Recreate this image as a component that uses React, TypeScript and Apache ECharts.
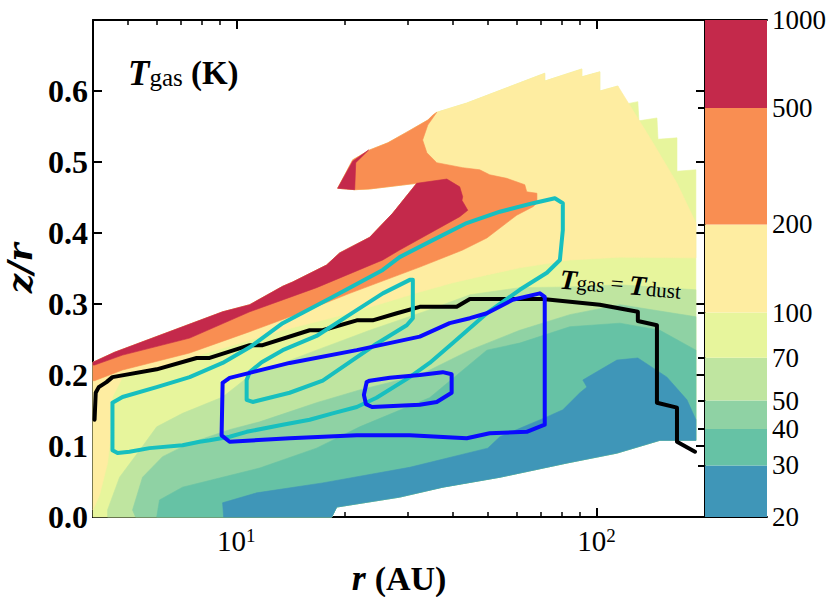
import React, { useEffect, useRef } from "react";
import * as echarts from "echarts";

// ---------- axes ----------
const rRange = [4, 200];
const zRange = [0, 0.7];
const zTicks = [0, 0.1, 0.2, 0.3, 0.4, 0.5, 0.6];
const rMajorTicks = [10, 100];
const rMinorTicks = [5, 6, 7, 8, 9, 20, 30, 40, 50, 60, 70, 80, 90];

// ---------- colour levels (K) ----------
const tLevels = [20, 30, 40, 50, 70, 100, 200, 500, 1000];
const tColors = ["#3f96b8", "#66c2a5", "#8fd2a4", "#bfe5a0", "#e7f59c", "#feeda1", "#f98e52", "#c4294b"];
const cbTicks = [30, 40, 50, 70, 100, 200, 500];

// ---------- data domain edges [r (AU), z/r] ----------
const domainTop = [[4.0, 0.218], [4.59, 0.232], [9.16, 0.289], [10.89, 0.299], [13.45, 0.325], [14.33, 0.331], [17.81, 0.355], [19.36, 0.372], [23.46, 0.394], [27.19, 0.428], [31.68, 0.47]];
const wingEdge = [[23.46, 0.462], [21.31, 0.461], [19.11, 0.463], [21.04, 0.503], [23.46, 0.517], [26.33, 0.527], [29.72, 0.542], [34.0, 0.559], [35.1, 0.566], [36.0, 0.57]];
const topStairs = [[43.6, 0.583], [71.8, 0.625], [71.8, 0.614], [91.0, 0.631], [91.0, 0.62], [102.1, 0.627], [102.1, 0.6], [114.6, 0.607]];
const topStairsOuter = [[116.1, 0.58], [130.2, 0.585], [131.1, 0.558], [147.1, 0.562], [148.1, 0.532], [167.2, 0.534], [167.2, 0.487], [188.7, 0.489]];
const domainBottom = [[188.7, 0.108], [149.9, 0.108], [113.9, 0.09], [82.7, 0.076], [53.9, 0.056], [37.4, 0.042], [28.4, 0.028], [19.0, 0.014], [18.4, 0]];

// ---------- warm contour boundaries ----------
const yellowFringe = [[143.4, 0.527], [167.2, 0.47], [188.7, 0.414], [188.7, 0.365]];
const yellowLower = [[116.1, 0.366], [84.3, 0.362], [61.2, 0.351], [49.6, 0.341], [39.9, 0.33], [32.3, 0.317], [20.64, 0.287], [13.45, 0.263], [10.89, 0.249], [7.42, 0.224], [4.83, 0.197], [4.53, 0.169], [4.5, 0.123], [4.39, 0.076], [4.17, 0.031], [4.0, 0.01]];
const orangeLower = [[34.0, 0.552], [32.9, 0.531], [33.8, 0.513], [36.0, 0.499], [42.5, 0.492], [47.4, 0.489], [50.5, 0.482], [56.3, 0.477], [63.2, 0.468], [64.0, 0.458], [68.3, 0.456], [68.3, 0.442], [66.6, 0.437], [60.0, 0.425], [49.6, 0.393], [42.5, 0.376], [32.3, 0.352], [20.64, 0.315], [14.99, 0.287], [10.89, 0.261], [7.42, 0.231], [4.83, 0.207], [4.04, 0.192], [4.0, 0.192]];
const crimsonLower = [[38.4, 0.476], [41.7, 0.465], [42.5, 0.451], [42.3, 0.446], [43.9, 0.432], [41.7, 0.423], [28.4, 0.376], [25.5, 0.362], [16.7, 0.323], [10.89, 0.289], [7.42, 0.252], [4.83, 0.228], [4.04, 0.214], [4.0, 0.214]];
const crimsonWing = [[19.11, 0.463], [21.04, 0.501], [23.3, 0.517], [21.45, 0.499], [21.31, 0.461]];

// ---------- cold contour boundaries (upper edges, left -> right) ----------
const upper70 = [[4.39, 0], [4.39, 0.01], [4.74, 0.056], [5.39, 0.094], [6.01, 0.127], [7.09, 0.146], [9.16, 0.169], [10.89, 0.199], [16.7, 0.235], [23.46, 0.263], [34.4, 0.292], [44.5, 0.313], [61.2, 0.323], [84.3, 0.324], [116.1, 0.327], [188.7, 0.32]];
const upper50 = [[5.25, 0], [5.15, 0.01], [5.49, 0.056], [6.24, 0.085], [7.42, 0.104], [9.58, 0.123], [11.61, 0.134], [16.7, 0.161], [22.0, 0.179], [32.3, 0.2], [44.5, 0.235], [61.2, 0.263], [84.3, 0.285], [116.1, 0.299], [188.7, 0.282]];
const upper40 = [[6.01, 0], [6.12, 0.024], [7.09, 0.042], [9.16, 0.056], [11.61, 0.069], [16.7, 0.097], [22.0, 0.127], [34.4, 0.168], [49.6, 0.235], [61.2, 0.245], [84.3, 0.268], [116.1, 0.273], [149.9, 0.263], [188.7, 0.235]];
const upper30 = [[9.22, 0], [9.16, 0.02], [11.39, 0.034], [17.37, 0.048], [30.3, 0.07], [49.9, 0.097], [53.9, 0.113], [72.8, 0.141], [80.6, 0.151], [89.9, 0.175], [94.0, 0.183], [91.6, 0.193], [102.1, 0.207], [113.9, 0.221], [130.2, 0.224], [156.8, 0.197], [178.2, 0.165], [188.7, 0.137]];

// ---------- contour lines ----------
const tEqualLine = [[4.04, 0.137], [4.07, 0.175], [4.15, 0.183], [4.36, 0.19], [4.53, 0.197], [6.01, 0.208], [7.76, 0.224], [8.43, 0.224], [10.89, 0.242], [11.83, 0.242], [15.98, 0.263], [17.37, 0.263], [21.6, 0.277], [23.9, 0.277], [27.9, 0.287], [32.3, 0.296], [40.9, 0.296], [44.5, 0.307], [70.9, 0.307], [102.1, 0.299], [130.2, 0.289], [130.2, 0.276], [147.1, 0.27], [147.1, 0.161], [167.2, 0.154], [167.2, 0.106], [187.6, 0.092]];
const cyanOuter = [[4.53, 0.161], [4.53, 0.094], [4.68, 0.09], [5.05, 0.092], [5.74, 0.097], [7.09, 0.101], [7.91, 0.106], [8.43, 0.108], [9.58, 0.113], [10.68, 0.12], [13.45, 0.13], [15.98, 0.137], [18.5, 0.146], [21.6, 0.155], [24.5, 0.168], [30.3, 0.197], [34.4, 0.217], [39.9, 0.245], [49.6, 0.287], [61.2, 0.32], [72.8, 0.344], [79.1, 0.362], [80.6, 0.404], [80.6, 0.442], [76.6, 0.449], [66.6, 0.442], [53.9, 0.43], [43.6, 0.414], [35.1, 0.39], [28.4, 0.366], [25.5, 0.348], [18.5, 0.31], [13.45, 0.273], [10.89, 0.239], [9.16, 0.217], [7.42, 0.197], [6.01, 0.183], [4.83, 0.169]];
const cyanInner = [[10.68, 0.193], [10.68, 0.165], [11.1, 0.162], [14.06, 0.175], [17.37, 0.192], [20.64, 0.218], [24.5, 0.244], [29.72, 0.27], [30.9, 0.28], [30.9, 0.334], [30.3, 0.334], [25.5, 0.315], [20.64, 0.285], [16.7, 0.255], [13.45, 0.235], [11.76, 0.218], [10.89, 0.204]];
const blueOuter = [[9.16, 0.189], [9.1, 0.115], [9.58, 0.106], [14.06, 0.111], [21.6, 0.115], [30.3, 0.115], [43.6, 0.111], [50.5, 0.118], [64.0, 0.12], [71.8, 0.13], [71.8, 0.31], [69.6, 0.315], [58.5, 0.306], [49.6, 0.287], [44.5, 0.28], [39.1, 0.273], [32.3, 0.254], [21.6, 0.235], [14.06, 0.217], [10.89, 0.203], [9.58, 0.196]];
const blueInner = [[23.0, 0.19], [22.6, 0.172], [22.9, 0.159], [23.8, 0.155], [32.3, 0.158], [36.0, 0.162], [39.6, 0.175], [39.6, 0.201], [37.4, 0.204], [32.3, 0.2], [26.66, 0.196], [23.46, 0.192]];

const SERIF = "'Liberation Serif', 'DejaVu Serif', serif";
const WIDE_SERIF = "'DejaVu Serif', 'Liberation Serif', serif";

function fillSeries(pts: number[][], color: string, z: number) {
  return {
    type: "custom",
    coordinateSystem: "cartesian2d",
    xAxisIndex: 0,
    yAxisIndex: 0,
    silent: true,
    z,
    data: [pts[0]],
    encode: { x: 0, y: 1 },
    renderItem: (_p: any, api: any) => ({
      type: "polygon",
      shape: { points: pts.map((p) => api.coord(p)) },
      style: { fill: color, stroke: color, lineWidth: 0.6 },
    }),
  };
}

function lineSeries(pts: number[][], color: string, closed: boolean, z: number) {
  const path = closed ? [...pts, pts[0]] : pts;
  return {
    type: "custom",
    coordinateSystem: "cartesian2d",
    xAxisIndex: 0,
    yAxisIndex: 0,
    silent: true,
    z,
    data: [pts[0]],
    encode: { x: 0, y: 1 },
    renderItem: (_p: any, api: any) => ({
      type: "polyline",
      shape: { points: path.map((p) => api.coord(p)) },
      style: { fill: null, stroke: color, lineWidth: 4, lineJoin: "round", lineCap: "round" },
    }),
  };
}

export default function App() {
  const ref = useRef<HTMLDivElement>(null);
  useEffect(() => {
    if (!ref.current) return;
    const chart = echarts.init(ref.current, null, { renderer: "svg" });

    const domain = [[4.0, 0], ...domainTop, ...wingEdge, ...topStairs, ...topStairsOuter, ...domainBottom];
    const yellow = [...domainTop, ...wingEdge, ...topStairs, ...yellowFringe, ...yellowLower];
    const orange = [...domainTop, ...wingEdge, ...orangeLower];
    const crimson = [...domainTop, ...crimsonLower];
    const cold = (upper: number[][]) => [...upper, ...domainBottom];

    const axisLineStyle = { color: "#000", width: 2 };
    const logX = (pos: string, major: boolean, labels: boolean, withLine: boolean) => ({
      type: "log",
      logBase: 10,
      gridIndex: 0,
      position: pos,
      min: rRange[0],
      max: rRange[1],
      axisLine: { show: withLine, lineStyle: axisLineStyle },
      axisTick: {
        show: true,
        inside: true,
        length: major ? 9 : 5,
        customValues: major ? rMajorTicks : rMinorTicks,
        lineStyle: { color: "#000", width: major ? 2 : 1.5 },
      },
      axisLabel: labels
        ? {
            show: true,
            customValues: rMajorTicks,
            margin: 9,
            formatter: (v: number) => `{b|10}{s|${Math.round(Math.log10(v))}}`,
            rich: {
              b: { fontFamily: SERIF, fontSize: 29, color: "#000", lineHeight: 30 },
              s: { fontFamily: SERIF, fontSize: 19, color: "#000", verticalAlign: "top", lineHeight: 18 },
            },
          }
        : { show: false },
      splitLine: { show: false },
      minorTick: { show: false },
      ...(labels
        ? {
            name: "{i|r}{n|(AU)}",
            nameLocation: "middle",
            nameGap: 38,
            nameTextStyle: {
              rich: {
                i: { fontFamily: SERIF, fontSize: 36, fontWeight: "bold", fontStyle: "italic", color: "#000", padding: [0, 9, 0, 0] },
                n: { fontFamily: SERIF, fontSize: 34, fontWeight: "bold", color: "#000" },
              },
            },
          }
        : {}),
    });

    const option: any = {
      animation: false,
      backgroundColor: "#ffffff",
      grid: [
        { left: 93, top: 20, width: 612, height: 497, containLabel: false, outerBoundsMode: "none" },
        { left: 705, top: 20, width: 62, height: 497, containLabel: false, outerBoundsMode: "none" },
      ],
      xAxis: [
        logX("bottom", true, true, true),
        logX("bottom", false, false, false),
        logX("top", true, false, true),
        logX("top", false, false, false),
        { type: "value", gridIndex: 1, position: "bottom", min: 0, max: 1, axisLine: { show: true, lineStyle: axisLineStyle }, axisTick: { show: false }, axisLabel: { show: false }, splitLine: { show: false } },
        { type: "value", gridIndex: 1, position: "top", min: 0, max: 1, axisLine: { show: true, lineStyle: axisLineStyle }, axisTick: { show: false }, axisLabel: { show: false }, splitLine: { show: false } },
      ],
      yAxis: [
        {
          type: "value",
          gridIndex: 0,
          position: "left",
          min: zRange[0],
          max: zRange[1],
          interval: 0.1,
          axisLine: { show: true, lineStyle: axisLineStyle },
          axisTick: { show: true, inside: true, length: 9, lineStyle: { color: "#000", width: 2 } },
          axisLabel: {
            customValues: zTicks,
            formatter: (v: number) => v.toFixed(1),
            fontFamily: SERIF,
            fontSize: 32,
            fontWeight: "bold",
            color: "#000",
            margin: 5,
          },
          splitLine: { show: false },
          name: "z/r",
          nameLocation: "middle",
          nameGap: 46,
          nameRotate: 90,
          nameTextStyle: { fontFamily: WIDE_SERIF, fontSize: 34, lineHeight: 34, fontWeight: "bold", fontStyle: "italic", color: "#000" },
        },
        {
          type: "value",
          gridIndex: 0,
          position: "right",
          min: zRange[0],
          max: zRange[1],
          interval: 0.1,
          axisLine: { show: true, lineStyle: axisLineStyle },
          axisTick: { show: true, inside: true, length: 9, lineStyle: { color: "#000", width: 2 } },
          axisLabel: { show: false },
          splitLine: { show: false },
        },
        {
          type: "log",
          logBase: 10,
          gridIndex: 1,
          position: "right",
          min: tLevels[0],
          max: tLevels[tLevels.length - 1],
          axisLine: { show: true, lineStyle: axisLineStyle },
          axisTick: { show: true, inside: true, length: 7, customValues: cbTicks, lineStyle: { color: "#000", width: 2 } },
          axisLabel: {
            show: true,
            customValues: tLevels,
            formatter: (v: number) => String(Math.round(v)),
            fontFamily: SERIF,
            fontSize: 27,
            lineHeight: 26,
            color: "#000",
            margin: 5,
          },
          splitLine: { show: false },
          minorTick: { show: false },
        },
        {
          type: "value",
          gridIndex: 1,
          position: "left",
          min: 0,
          max: 1,
          axisLine: { show: true, lineStyle: axisLineStyle },
          axisTick: { show: false },
          axisLabel: { show: false },
          splitLine: { show: false },
        },
      ],
      series: [
        fillSeries(domain, tColors[4], 1),
        fillSeries(yellow, tColors[5], 2),
        fillSeries(orange, tColors[6], 3),
        fillSeries(crimson, tColors[7], 4),
        fillSeries(crimsonWing, tColors[7], 4),
        fillSeries(cold(upper70), tColors[3], 5),
        fillSeries(cold(upper50), tColors[2], 6),
        fillSeries(cold(upper40), tColors[1], 7),
        fillSeries(cold(upper30), tColors[0], 8),
        lineSeries(tEqualLine, "#000000", false, 10),
        lineSeries(cyanOuter, "#17bfbf", true, 11),
        lineSeries(cyanInner, "#17bfbf", true, 11),
        lineSeries(blueOuter, "#0a0aff", true, 12),
        lineSeries(blueInner, "#0a0aff", true, 12),
        {
          type: "custom",
          coordinateSystem: "cartesian2d",
          xAxisIndex: 4,
          yAxisIndex: 2,
          silent: true,
          z: 1,
          data: tColors.map((_, i) => [0, tLevels[i], 1, tLevels[i + 1]]),
          encode: { x: [0, 2], y: [1, 3] },
          renderItem: (params: any, api: any) => {
            const p0 = api.coord([api.value(0), api.value(1)]);
            const p1 = api.coord([api.value(2), api.value(3)]);
            return {
              type: "rect",
              shape: { x: p0[0], y: p1[1], width: p1[0] - p0[0], height: p0[1] - p1[1] },
              style: { fill: tColors[params.dataIndex] },
            };
          },
        },
      ],
      graphic: [
        {
          type: "text",
          x: 128,
          y: 56,
          z: 50,
          style: {
            text: "{t|T}{g|gas}{k| (K)}",
            rich: {
              t: { fontFamily: SERIF, fontSize: 35, fontWeight: "bold", fontStyle: "italic", lineHeight: 34, fill: "#000" },
              g: { fontFamily: SERIF, fontSize: 25, lineHeight: 6, verticalAlign: "bottom", fill: "#000" },
              k: { fontFamily: SERIF, fontSize: 33, fontWeight: "bold", lineHeight: 34, fill: "#000" },
            },
          },
        },
        {
          type: "text",
          x: 561,
          y: 266,
          rotation: -0.085,
          z: 50,
          style: {
            text: "{t|T}{g|gas}{e| = }{t|T}{g|dust}",
            rich: {
              t: { fontFamily: SERIF, fontSize: 28, fontWeight: "bold", fontStyle: "italic", lineHeight: 26, fill: "#000" },
              g: { fontFamily: SERIF, fontSize: 21, lineHeight: 6, verticalAlign: "bottom", fill: "#000" },
              e: { fontFamily: SERIF, fontSize: 23, lineHeight: 26, fill: "#000" },
            },
          },
        },
      ],
    };

    chart.setOption(option);
    return () => chart.dispose();
  }, []);

  return (
    <div
      ref={ref}
      style={{ position: "absolute", left: 0, top: 0, width: 831, height: 597, background: "#fff" }}
    />
  );
}
